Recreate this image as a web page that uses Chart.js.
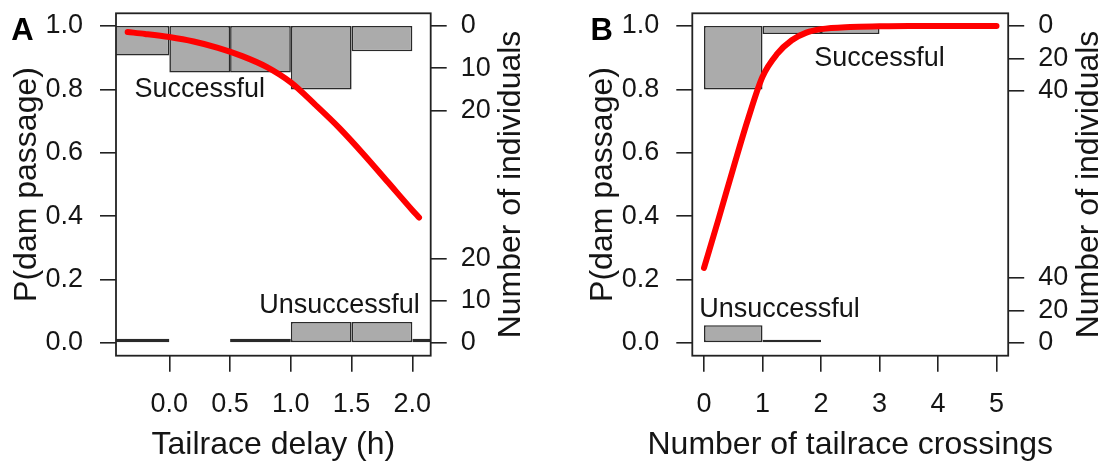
<!DOCTYPE html>
<html><head><meta charset="utf-8">
<script src="https://cdn.jsdelivr.net/npm/chart.js@4.4.1/dist/chart.umd.min.js"></script>
<style>
html,body{margin:0;padding:0;background:#fff;}
#wrap{position:relative;width:1106px;height:466px;overflow:hidden;background:#fff;}
canvas{position:absolute;top:0;}
</style></head><body>
<div id="wrap">
<canvas id="cA" width="576" height="466" style="left:0px"></canvas>
<canvas id="cB" width="530" height="466" style="left:576px"></canvas>
</div>
<script>
// ---------- Panel A: Tailrace delay ----------
const binEdgesA = [-0.5, 0, 0.5, 1.0, 1.5, 2.0, 2.5];
const successA  = [7, 11, 11, 15, 6, 0];
const failA     = [1, 0, 1, 5, 5, 1];
const curveAx   = [-0.343, -0.2, 0, 0.2, 0.4, 0.6, 0.8, 1.0, 1.2, 1.4, 1.6, 1.8, 2.0, 2.055];
const curveAy   = [0.981, 0.975, 0.965, 0.951, 0.931, 0.905, 0.871, 0.822, 0.752, 0.678, 0.595, 0.507, 0.419, 0.396];
const xTicksA   = [0, 0.5, 1.0, 1.5, 2.0];
const countTicksA = [0, 10, 20];

// ---------- Panel B: Number of tailrace crossings ----------
const binEdgesB = [0, 1, 2, 3, 4, 5];
const successB  = [39, 5, 5, 0, 0];
const failB     = [11, 2, 0, 0, 0];
const curveBx   = [0, 0.25, 0.5, 0.75, 1.0, 1.25, 1.5, 1.75, 2.0, 2.5, 3.0, 3.5, 4.0, 4.5, 5.0];
const curveBy   = [0.237, 0.392, 0.551, 0.705, 0.840, 0.912, 0.955, 0.979, 0.990, 0.997, 0.999, 1.0, 1.0, 1.0, 1.0];
const xTicksB   = [0, 1, 2, 3, 4, 5];
const countTicksB = [0, 20, 40];

const pTicks = [0, 0.2, 0.4, 0.6, 0.8, 1.0];
const FONT = "'Liberation Sans', Arial, Helvetica, sans-serif";
const INK = '#151515';

function makePanel(id, o) {
  const k = 0.2 / Math.max(...o.success, ...o.fail);
  const centers = o.edges.slice(0, -1).map((e, i) => (e + o.edges[i + 1]) / 2);
  const succData = centers.map((c, i) => o.success[i] > 0 ? {x: c, y: [1 - o.success[i] * k, 1]} : null).filter(Boolean);
  const failData = centers.map((c, i) => o.fail[i] > 0 ? {x: c, y: [0, o.fail[i] * k]} : null).filter(Boolean);
  const curve = o.cx.map((x, i) => ({x: x, y: o.cy[i]}));
  const rightTicks = [
    ...o.countTicks.map(c => ({value: c * k, label: String(c)})),
    ...o.countTicks.map(c => ({value: 1 - c * k, label: String(c)}))
  ].sort((a, b) => a.value - b.value);

  const canvas = document.getElementById(id);
  const W = canvas.width;
  const tickGrid = {display: true, drawOnChartArea: false, drawTicks: true, tickLength: 16, color: '#222', lineWidth: 1.6, offset: false};
  const barStyle = {backgroundColor: '#ababab', borderColor: '#2a2a2a', borderWidth: 1.6, borderSkipped: false,
                    grouped: false, barPercentage: 1, categoryPercentage: 1, clip: 0, order: 2, inflateAmount: 0};
  const noPad = s => { s.paddingTop = 0; s.paddingBottom = 0; s.paddingLeft = 0; s.paddingRight = 0; };

  const decor = {
    id: 'decor',
    afterDatasetsDraw(chart) {
      const {ctx, scales} = chart;
      ctx.save();
      ctx.fillStyle = INK;
      ctx.font = '27px ' + FONT;
      ctx.textAlign = 'center';
      ctx.textBaseline = 'middle';
      o.notes.forEach(n => {
        ctx.fillText(n.text, scales.x.getPixelForValue(n.x), scales.y.getPixelForValue(n.y));
      });
      ctx.restore();
    },
    afterDraw(chart) {
      const {ctx, chartArea: a} = chart;
      ctx.save();
      ctx.strokeStyle = '#222';
      ctx.lineWidth = 1.8;
      ctx.strokeRect(a.left, a.top, a.right - a.left, a.bottom - a.top);
      ctx.fillStyle = INK;
      ctx.font = '32px ' + FONT;
      ctx.textAlign = 'center';
      ctx.textBaseline = 'middle';
      // x axis title
      ctx.fillText(o.xTitle, (a.left + a.right) / 2, 445);
      // right axis title (reads bottom-to-top)
      ctx.translate(a.right + 80.5, (a.top + a.bottom) / 2);
      ctx.rotate(-Math.PI / 2);
      ctx.fillText('Number of individuals', 0, 0);
      ctx.restore();
      // panel letter
      ctx.save();
      ctx.fillStyle = '#000';
      ctx.font = 'bold 31px ' + FONT;
      ctx.textAlign = 'center';
      ctx.textBaseline = 'middle';
      ctx.fillText(o.letter, o.letterX, 31);
      ctx.restore();
    }
  };

  return new Chart(canvas, {
    type: 'bar',
    data: {
      datasets: [
        Object.assign({label: 'Successful', data: succData}, barStyle),
        Object.assign({label: 'Unsuccessful', data: failData}, barStyle),
        {type: 'line', label: 'P(dam passage)', data: curve, borderColor: '#ff0000', borderWidth: 6,
         pointRadius: 0, cubicInterpolationMode: 'monotone', borderCapStyle: 'round', fill: false, order: 0}
      ]
    },
    options: {
      responsive: false,
      animation: false,
      devicePixelRatio: 1,
      layout: {padding: {top: 13.3, left: 0, right: 0, bottom: 0}},
      plugins: {legend: {display: false}, tooltip: {enabled: false}},
      scales: {
        x: {
          type: 'linear', position: 'bottom', min: o.xmin, max: o.xmax, offset: false,
          afterBuildTicks: s => { s.ticks = o.xTicks.map(v => ({value: v})); },
          ticks: {font: {family: FONT, size: 27}, color: INK, padding: 17, autoSkip: false, maxRotation: 0,
                  callback: v => o.xFmt(v)},
          grid: tickGrid, border: {display: false},
          afterFit: s => { noPad(s); s.height = 466 - 355.7; }
        },
        y: {
          type: 'linear', position: 'left', min: -0.04, max: 1.04,
          afterBuildTicks: s => { s.ticks = pTicks.map(v => ({value: v})); },
          ticks: {font: {family: FONT, size: 27}, color: INK, padding: 17, autoSkip: false, callback: v => v.toFixed(1)},
          grid: tickGrid, border: {display: false},
          title: {display: true, text: 'P(dam passage)', font: {family: FONT, size: 32}, color: INK, padding: {top: 8, bottom: 0}},
          afterFit: s => { noPad(s); s.width = o.boxLeft; }
        },
        y2: {
          type: 'linear', position: 'right', min: -0.04, max: 1.04,
          afterBuildTicks: s => { s.ticks = rightTicks.map(t => ({value: t.value})); },
          ticks: {font: {family: FONT, size: 27}, color: INK, padding: 14, autoSkip: false,
                  callback: (v, i) => rightTicks[i].label},
          grid: tickGrid, border: {display: false},
          afterFit: s => { noPad(s); s.width = W - o.boxRight; }
        }
      }
    },
    plugins: [decor]
  });
}

makePanel('cA', {
  edges: binEdgesA, success: successA, fail: failA, cx: curveAx, cy: curveAy,
  xTicks: xTicksA, countTicks: countTicksA, xmin: -0.439, xmax: 2.151,
  xFmt: v => v.toFixed(1), xTitle: 'Tailrace delay (h)',
  boxLeft: 116, boxRight: 430.7, letter: 'A', letterX: 22.5,
  notes: [{text: 'Successful', x: 0.25, y: 0.80}, {text: 'Unsuccessful', x: 1.40, y: 0.118}]
});
makePanel('cB', {
  edges: binEdgesB, success: successB, fail: failB, cx: curveBx, cy: curveBy,
  xTicks: xTicksB, countTicks: countTicksB, xmin: -0.2, xmax: 5.2,
  xFmt: v => String(v), xTitle: 'Number of tailrace crossings',
  boxLeft: 116.3, boxRight: 432.2, letter: 'B', letterX: 25.7,
  notes: [{text: 'Successful', x: 3.0, y: 0.897}, {text: 'Unsuccessful', x: 1.29, y: 0.107}]
});
</script>
</body></html>
